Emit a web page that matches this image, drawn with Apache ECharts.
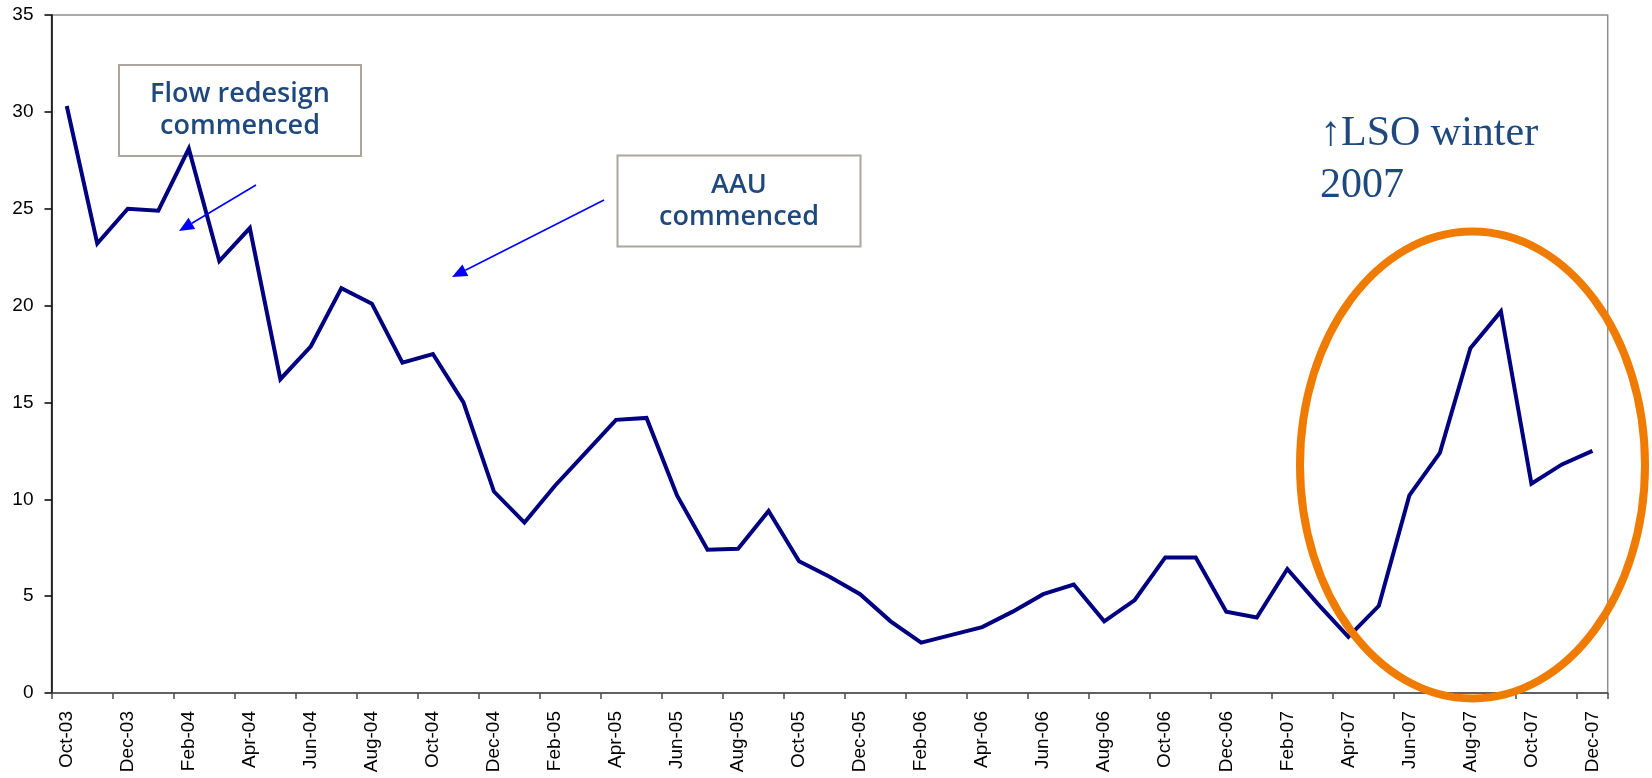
<!DOCTYPE html>
<html>
<head>
<meta charset="utf-8">
<script src="https://cdn.jsdelivr.net/npm/echarts@6/dist/echarts.min.js"></script>
<style>
  html, body { margin: 0; padding: 0; background: #fff; }
  #chart { width: 1652px; height: 778px; }
</style>
</head>
<body>
<div id="chart"></div>
<script>
// Monthly series, Oct 2003 – Dec 2007
const months = [
  'Oct-03','Nov-03','Dec-03',
  'Jan-04','Feb-04','Mar-04','Apr-04','May-04','Jun-04','Jul-04','Aug-04','Sep-04','Oct-04','Nov-04','Dec-04',
  'Jan-05','Feb-05','Mar-05','Apr-05','May-05','Jun-05','Jul-05','Aug-05','Sep-05','Oct-05','Nov-05','Dec-05',
  'Jan-06','Feb-06','Mar-06','Apr-06','May-06','Jun-06','Jul-06','Aug-06','Sep-06','Oct-06','Nov-06','Dec-06',
  'Jan-07','Feb-07','Mar-07','Apr-07','May-07','Jun-07','Jul-07','Aug-07','Sep-07','Oct-07','Nov-07','Dec-07'
];

const values = [
  30.3, 23.2, 25.0,
  24.9, 28.1, 22.3, 24.0, 16.2, 17.9, 20.9, 20.1, 17.05, 17.5, 15.0, 10.4,
  8.8, 10.7, 12.4, 14.1, 14.2, 10.2, 7.4, 7.45, 9.4, 6.8, 6.0, 5.1,
  3.7, 2.6, 3.0, 3.4, 4.2, 5.1, 5.6, 3.7, 4.8, 7.0, 7.0, 4.2,
  3.9, 6.4, 4.6, 2.9, 4.5, 10.2, 12.4, 17.8, 19.7, 10.8, 11.8, 12.5
];

const yTicks = { min: 0, max: 35, step: 5 };

const noteColor = '#1F497D';
const arrowColor = '#0000FF';
const axisFont = 'Liberation Sans';

// straight arrow with a filled triangular head at (x2, y2)
function arrow(x1, y1, x2, y2) {
  const ang = Math.atan2(y2 - y1, x2 - x1);
  const len = 15, half = 6.5;
  const bx = x2 - len * Math.cos(ang), by = y2 - len * Math.sin(ang);
  const px = -Math.sin(ang) * half, py = Math.cos(ang) * half;
  return [
    { type: 'line', z: 20, shape: { x1: x1, y1: y1, x2: bx, y2: by },
      style: { stroke: arrowColor, lineWidth: 1.6 } },
    { type: 'polygon', z: 20,
      shape: { points: [[x2, y2], [bx + px, by + py], [bx - px, by - py]] },
      style: { fill: arrowColor } }
  ];
}

function noteBox(x, y, w, h, text) {
  return [
    { type: 'rect', z: 1, shape: { x: x, y: y, width: w, height: h },
      style: { fill: '#fff', stroke: '#ADA59B', lineWidth: 2 } },
    { type: 'text', z: 2, x: x + w / 2, y: y + h / 2,
      style: { text: text, fill: noteColor, font: '600 27px "Open Sans"',
               lineHeight: 32, align: 'center', verticalAlign: 'middle' } }
  ];
}

const chart = echarts.init(document.getElementById('chart'), null, { renderer: 'canvas' });

chart.setOption({
  animation: false,
  backgroundColor: '#fff',
  textStyle: { fontFamily: axisFont, fontSize: 19, color: '#000' },
  grid: {
    left: 51.5, right: 44.3, top: 15, bottom: 85,
    show: true, borderColor: '#8E8E8E', borderWidth: 1.5, backgroundColor: 'transparent'
  },
  xAxis: {
    type: 'category',
    data: months,
    boundaryGap: true,
    axisLine: { lineStyle: { color: '#4A4A4A', width: 1.5 } },
    axisTick: { show: true, interval: 1, length: 6, lineStyle: { color: '#4A4A4A', width: 1.5 } },
    axisLabel: {
      show: true, interval: 1, rotate: 90, margin: 18, hideOverlap: false,
      color: '#000', fontSize: 19, fontFamily: axisFont
    },
    splitLine: { show: false }
  },
  yAxis: {
    type: 'value',
    min: yTicks.min, max: yTicks.max, interval: yTicks.step,
    axisLine: { show: true, lineStyle: { color: '#000', width: 1.5 } },
    axisTick: { show: true, length: 7, lineStyle: { color: '#000', width: 1.5 } },
    axisLabel: {
      margin: 18, color: '#000', fontSize: 19, fontFamily: axisFont
    },
    splitLine: { show: false }
  },
  series: [{
    type: 'line',
    data: values,
    z: 5,
    showSymbol: false,
    symbol: 'none',
    lineStyle: { color: '#000080', width: 4, join: 'miter' }
  }],
  graphic: [
    ...noteBox(119, 65, 242, 91, 'Flow redesign\ncommenced'),
    ...noteBox(617.5, 155.5, 243, 91, 'AAU\ncommenced'),
    ...arrow(256, 185, 179, 231),
    ...arrow(604, 200, 452, 277),
    { type: 'text', z: 20, x: 1320, y: 108,
      style: { text: '\u2191LSO winter\n2007', fill: noteColor,
               font: '42px "Liberation Serif", "Times New Roman", serif',
               lineHeight: 52, align: 'left', verticalAlign: 'top' } },
    { type: 'ellipse', z: 30,
      shape: { cx: 1472.5, cy: 465, rx: 172.5, ry: 233.5 },
      style: { fill: 'none', stroke: '#EF7B00', lineWidth: 8 } }
  ]
});
</script>
</body>
</html>
